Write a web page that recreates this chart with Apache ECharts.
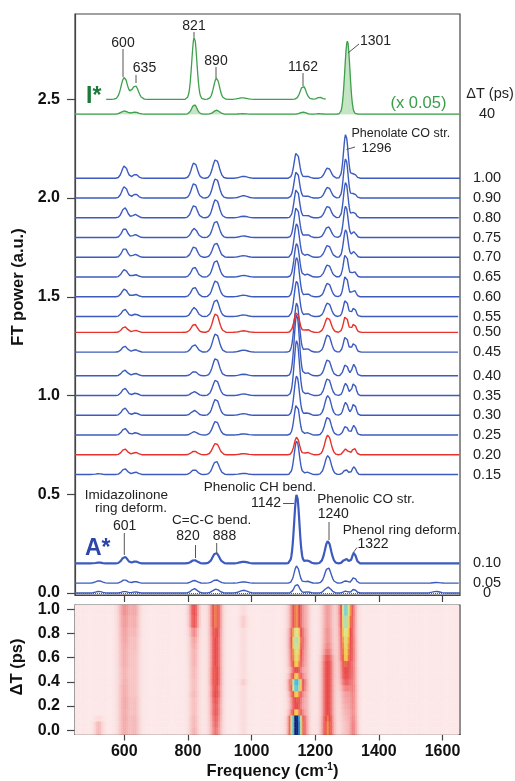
<!DOCTYPE html>
<html><head><meta charset="utf-8">
<script src="https://cdn.jsdelivr.net/npm/echarts@6/dist/echarts.min.js"></script>
<style>html,body{margin:0;padding:0;background:#fff}#c{width:515px;height:781px}</style>
</head><body><div id="c"></div>
<script>
// ---------- DATA ----------
const peakCenters = [520, 601, 635, 820, 888, 975, 1142, 1175, 1240, 1296, 1322, 1580];
const peakWidths  = [10, 8.5, 8, 9, 10, 12, 8, 8, 9.5, 7, 6, 12];
const delayLabels = ['0','0.05','0.10','0.15','0.20','0.25','0.30','0.35','0.40','0.45','0.50','0.55','0.60','0.65','0.70','0.75','0.80','0.90','1.00'];
const delays      = [0,0.05,0.10,0.15,0.20,0.25,0.30,0.35,0.40,0.45,0.50,0.55,0.60,0.65,0.70,0.75,0.80,0.90,1.00];
const traceOffsets = [0,0.05,0.15,0.60,0.70,0.80,0.90,1.00,1.10,1.22,1.32,1.40,1.50,1.60,1.70,1.80,1.90,2.00,2.10];
// peak heights per delay, columns follow peakCenters
const traceAmps = [
  [0.008,0.008,0.006,0.022,0.020,0.014,0.045,0.006,0.030,0.010,0.020,0.008],
  [0.012,0.017,0.008,0.014,0.017,0.006,0.088,0.010,0.080,0.012,0.030,0.003],
  [0.004,0.034,0.010,0.017,0.054,0.008,0.350,0.015,0.113,0.025,0.054,0],
  [0.004,0.030,0.012,0.025,0.068,0.006,0.170,0.012,0.096,0.025,0.040,0],
  [0,0.030,0.012,0.019,0.059,0.006,0.090,0.012,0.100,0.030,0.035,0],
  [0,0.034,0.012,0.017,0.071,0.006,0.160,0.012,0.093,0.046,0.050,0],
  [0,0.037,0.012,0.025,0.083,0.008,0.200,0.012,0.100,0.066,0.062,0],
  [0,0.037,0.012,0.020,0.080,0.008,0.280,0.012,0.088,0.062,0.066,0],
  [0,0.029,0.012,0.022,0.090,0.008,0.310,0.015,0.084,0.059,0.059,0],
  [0,0.030,0.012,0.039,0.095,0.010,0.250,0.017,0.090,0.081,0.047,0],
  [0,0.029,0.010,0.042,0.096,0.008,0.105,0.015,0.076,0.084,0.045,0],
  [0,0.037,0.012,0.046,0.087,0.008,0.180,0.015,0.071,0.087,0.046,0],
  [0,0.040,0.012,0.049,0.083,0.008,0.200,0.015,0.071,0.110,0.035,0],
  [0,0.039,0.012,0.051,0.086,0.008,0.170,0.015,0.064,0.120,0.030,0],
  [0,0.046,0.015,0.054,0.074,0.008,0.170,0.015,0.062,0.140,0.029,0],
  [0,0.047,0.015,0.047,0.085,0.008,0.160,0.015,0.056,0.160,0.030,0],
  [0,0.052,0.017,0.064,0.095,0.008,0.150,0.012,0.060,0.180,0.030,0],
  [0,0.059,0.020,0.076,0.101,0.012,0.140,0.010,0.056,0.200,0.025,0],
  [0,0.064,0.020,0.081,0.097,0.010,0.135,0.010,0.054,0.223,0.025,0]
];
const redDelays = ['0.20','0.50'];
const aStarDelay = '0.10';

const iStarCenters     = [600, 634, 820, 890, 972, 1162, 1214, 1301];
const iStarWidths      = [10, 10, 8, 9, 12, 9, 8, 8];
const iStarScaledAmps  = [0.111, 0.070, 0.316, 0.108, 0.008, 0.068, 0.010, 0];
const iStarAmps        = [0.016, 0.010, 0.049, 0.020, 0.002, 0.010, 0.002, 0.370];
const iStarScaledOffset = 2.5;
const iStarOffset = 2.425;
const iStarScaledRange = [542, 1240];
const iStarDelayLabel = '40';

const heatCenters = [520, 601, 635, 820, 888, 975, 1142, 1175, 1240, 1296, 1322];
const heatWidths  = [10, 15, 12, 12, 14, 9, 16, 9, 15, 14, 10];
const heatAmps = [
  [0.22,0.25,0.20,0.24,0.38,0.08,1.06,0.15,0.56,0.18,0.32],
  [0.22,0.25,0.20,0.22,0.40,0.08,1.06,0.15,0.56,0.18,0.32],
  [0.08,0.26,0.20,0.22,0.42,0.08,1.04,0.15,0.54,0.20,0.30],
  [0,0.25,0.18,0.20,0.45,0.08,0.62,0.15,0.50,0.22,0.28],
  [0,0.26,0.18,0.20,0.44,0.08,0.50,0.15,0.50,0.24,0.28],
  [0,0.26,0.18,0.20,0.46,0.08,0.52,0.15,0.50,0.26,0.28],
  [0,0.25,0.16,0.22,0.50,0.08,0.62,0.15,0.50,0.28,0.28],
  [0,0.25,0.16,0.20,0.48,0.08,0.86,0.15,0.50,0.34,0.28],
  [0,0.24,0.16,0.20,0.52,0.15,0.90,0.15,0.50,0.42,0.26],
  [0,0.23,0.16,0.22,0.52,0.08,0.62,0.15,0.50,0.48,0.26],
  [0,0.23,0.16,0.22,0.52,0.08,0.50,0.15,0.50,0.50,0.26],
  [0,0.25,0.16,0.24,0.50,0.08,0.62,0.15,0.50,0.52,0.25],
  [0,0.25,0.16,0.24,0.50,0.08,0.66,0.15,0.46,0.60,0.25],
  [0,0.25,0.17,0.24,0.50,0.08,0.68,0.15,0.38,0.62,0.25],
  [0,0.26,0.18,0.26,0.50,0.08,0.74,0.15,0.34,0.64,0.24],
  [0,0.27,0.18,0.28,0.50,0.08,0.76,0.15,0.32,0.66,0.24],
  [0,0.28,0.20,0.34,0.52,0.08,0.70,0.15,0.32,0.70,0.22],
  [0,0.30,0.22,0.46,0.55,0.15,0.56,0.15,0.30,0.76,0.22],
  [0,0.32,0.24,0.48,0.55,0.08,0.56,0.15,0.30,0.82,0.22]
];
const heatColors = ['#fce8e9','#fad9d9','#f7c0c0','#f39c9c','#ee6a6a','#e94848','#f6c848','#d8e690','#8cd6c8','#3ab6e6','#15207a'];

const freqRange = [445, 1655];
const freqTicks = [600, 800, 1000, 1200, 1400, 1600];
const powerTicks = [0, 0.5, 1, 1.5, 2, 2.5];
const delayTicks = [0, 0.2, 0.4, 0.6, 0.8, 1.0];

// ---------- BUILD ----------
const FONT = "'Liberation Sans', Arial, Helvetica, sans-serif";
const BLUE = '#3d5bbf', RED = '#e8312a', GREEN = '#3ea04c';
const sampleStep = 2;
const freqs = [];
for (let f = freqRange[0]; f <= freqRange[1]; f += sampleStep) freqs.push(f);

function spectrum(f, centers, widths, amps) {
  let s = 0;
  for (let k = 0; k < centers.length; k++) {
    const d = f - centers[k];
    s += amps[k] * Math.exp(-d * d / (2 * widths[k] * widths[k]));
  }
  return s;
}

const series = [];
// heat map (custom rects)
const heatData = [];
const bin = 6;
for (let i = 0; i < delays.length; i++) {
  const lo = i === 0 ? -0.035 : (delays[i - 1] + delays[i]) / 2;
  const hi = i === delays.length - 1 ? 1.035 : (delays[i] + delays[i + 1]) / 2;
  for (let f = 448; f <= 1652; f += bin) {
    heatData.push([f, lo, hi, Math.min(1, spectrum(f, heatCenters, heatWidths, heatAmps[i]))]);
  }
}
series.push({
  type: 'custom', xAxisIndex: 1, yAxisIndex: 1, clip: true, silent: true,
  encode: { x: 0, y: [1, 2] },
  data: heatData,
  renderItem: function (params, api) {
    const f = api.value(0), lo = api.value(1), hi = api.value(2);
    const p1 = api.coord([f - bin / 2, hi]);
    const p2 = api.coord([f + bin / 2, lo]);
    const c = api.visual('color');
    return { type: 'rect', shape: { x: p1[0], y: p1[1], width: p2[0] - p1[0], height: p2[1] - p1[1] },
             style: { fill: c, stroke: c, lineWidth: 0.5 } };
  }
});

// I* fill (under the lower I* trace, down to its baseline)
const fillStep = sampleStep;
series.push({
  type: 'custom', xAxisIndex: 0, yAxisIndex: 0, clip: true, silent: true,
  encode: { x: 0, y: [1, 2] },
  data: freqs.map(f => [f, iStarOffset, iStarOffset + spectrum(f, iStarCenters, iStarWidths, iStarAmps)]),
  renderItem: function (params, api) {
    const f = api.value(0);
    const p1 = api.coord([f - fillStep / 2, api.value(2)]);
    const p2 = api.coord([f + fillStep / 2, api.value(1)]);
    return { type: 'rect', shape: { x: p1[0], y: p1[1], width: p2[0] - p1[0], height: p2[1] - p1[1] },
             style: { fill: '#c3e5c3', stroke: '#c3e5c3', lineWidth: 0.4 } };
  },
  z: 1
});
// I* traces
series.push({
  type: 'line', xAxisIndex: 0, yAxisIndex: 0, symbol: 'none', silent: true,
  lineStyle: { color: GREEN, width: 1.3 },
  data: freqs.filter(f => f >= iStarScaledRange[0] && f <= iStarScaledRange[1])
             .map(f => [f, iStarScaledOffset + spectrum(f, iStarCenters, iStarWidths, iStarScaledAmps)])
});
series.push({
  type: 'line', xAxisIndex: 0, yAxisIndex: 0, symbol: 'none', silent: true,
  lineStyle: { color: GREEN, width: 1.3 },
  endLabel: { show: true, formatter: iStarDelayLabel, distance: 27, align: 'center',
              fontSize: 14.5, fontFamily: FONT, color: '#222' },
  data: freqs.map(f => [f, iStarOffset + spectrum(f, iStarCenters, iStarWidths, iStarAmps)])
});

// delay traces
for (let i = 0; i < delays.length; i++) {
  const lab = delayLabels[i];
  const col = redDelays.includes(lab) ? RED : BLUE;
  const s = {
    type: 'line', xAxisIndex: 0, yAxisIndex: 0, symbol: 'none', silent: true,
    lineStyle: { color: col, width: lab === aStarDelay ? 2.2 : 1.4 },
    endLabel: { show: true, formatter: lab, distance: 27, align: 'center',
                fontSize: 14.5, fontFamily: FONT, color: '#222' },
    data: freqs.map(f => [f, traceOffsets[i] + spectrum(f, peakCenters, peakWidths, traceAmps[i])]),
    z: lab === aStarDelay ? 5 : 3
  };
  if (i === 0) {
    s.markLine = { silent: true, symbol: 'none', label: { show: false },
      lineStyle: { color: BLUE, type: 'dotted', width: 1 }, data: [{ yAxis: 0 }] };
  }
  series.push(s);
}

const axisLab = { fontFamily: FONT, fontWeight: 'bold', fontSize: 16, color: '#111' };
const option = {
  animation: false,
  backgroundColor: '#fff',
  grid: [
    { left: 75, top: 14, width: 385, height: 581, show: true, borderColor: '#444', borderWidth: 1.2, backgroundColor: 'transparent' },
    { left: 75, top: 605, width: 385, height: 129.5, show: true, borderColor: '#444', borderWidth: 1.2, backgroundColor: '#fce8e9' }
  ],
  visualMap: { show: false, type: 'continuous', seriesIndex: 0, dimension: 3, min: 0, max: 1, inRange: { color: heatColors } },
  xAxis: [
    { type: 'value', gridIndex: 0, min: freqRange[0], max: freqRange[1],
      axisLine: { onZero: false, lineStyle: { color: '#444', width: 1.2 } },
      axisTick: { show: true, length: 7, customValues: freqTicks, lineStyle: { color: '#444', width: 1.2 } },
      axisLabel: { show: false }, splitLine: { show: false } },
    { type: 'value', gridIndex: 1, min: freqRange[0], max: freqRange[1],
      axisLine: { onZero: false, lineStyle: { color: '#444', width: 1.2 } },
      axisTick: { show: true, length: 6, customValues: freqTicks, lineStyle: { color: '#444', width: 1.2 } },
      axisLabel: Object.assign({ customValues: freqTicks, margin: 9, formatter: v => String(v) }, axisLab),
      splitLine: { show: false } }
  ],
  yAxis: [
    { type: 'value', gridIndex: 0, min: -0.01, max: 2.932,
      axisLine: { show: true, onZero: false, lineStyle: { color: '#444', width: 1.2 } },
      axisTick: { show: true, length: 8, customValues: powerTicks, lineStyle: { color: '#444', width: 1.2 } },
      axisLabel: Object.assign({ customValues: powerTicks, margin: 15, formatter: v => v.toFixed(1) }, axisLab),
      splitLine: { show: false } },
    { type: 'value', gridIndex: 1, min: -0.035, max: 1.035,
      axisLine: { show: true, onZero: false, lineStyle: { color: '#444', width: 1.2 } },
      axisTick: { show: true, length: 8, customValues: delayTicks, lineStyle: { color: '#444', width: 1.2 } },
      axisLabel: Object.assign({ customValues: delayTicks, margin: 15, formatter: v => v.toFixed(1) }, axisLab),
      splitLine: { show: false } }
  ],
  series: series,
  graphic: { elements: [] }
};

// annotations (text + leader lines)
const G = [];
function txt(t, x, y, o) {
  o = o || {};
  G.push({ type: 'text', x: x, y: y, rotation: o.rot || 0, z: 100,
    style: { text: t, fill: o.color || '#222', fontFamily: FONT, fontSize: o.size || 14,
             fontWeight: o.bold ? 'bold' : 'normal', align: o.align || 'center', verticalAlign: 'middle', rich: o.rich } });
}
function ln(x1, y1, x2, y2) {
  G.push({ type: 'line', z: 100, shape: { x1: x1, y1: y1, x2: x2, y2: y2 }, style: { stroke: '#555', lineWidth: 1 } });
}
// I* panel
txt('600', 123, 43); ln(123, 49, 123, 77);
txt('635', 144.5, 68); ln(136, 75, 136, 83);
txt('821', 194, 26); ln(194, 32, 194, 37);
txt('890', 216, 61); ln(216, 67, 216, 78);
txt('1162', 303, 67); ln(303, 73, 303, 86);
txt('1301', 360, 41, { align: 'left' }); ln(359, 44, 348, 53);
txt('I*', 86, 97, { align: 'left', bold: true, size: 23, color: '#1b7a3a' });
txt('(x 0.05)', 418.5, 103, { size: 16.5, color: '#3a9d4a' });
txt('\u0394T (ps)', 490, 94, { size: 14.5 });
// main
txt('Phenolate CO str.', 351.5, 133.5, { align: 'left', size: 12.5 });
txt('1296', 361.5, 148.5, { align: 'left', size: 13.5 }); ln(346.5, 149.5, 355, 147);
txt('Imidazolinone', 168, 495, { align: 'right', size: 13.5 });
txt('ring deform.', 167, 508.5, { align: 'right', size: 13.5 });
txt('601', 124.7, 526); ln(124.3, 533, 124.3, 555);
txt('C=C-C bend.', 211.7, 520, { size: 13.5 });
txt('820', 188, 536); ln(195.5, 545, 195.5, 558);
txt('888', 224.5, 536); ln(216.7, 543, 216.7, 553);
txt('Phenolic CH bend.', 260, 487.3, { size: 13.5 });
txt('1142', 266, 503.3); ln(283, 503.5, 294, 503.5);
txt('Phenolic CO str.', 366, 499.3, { size: 13.5 });
txt('1240', 333.3, 514); ln(329, 522, 329, 540);
txt('Phenol ring deform.', 401.7, 530.7, { size: 13.5 });
txt('1322', 373, 544); ln(357, 547.5, 353, 553);
txt('A*', 85, 548.3, { align: 'left', bold: true, size: 23, color: '#2b45a8' });
// axis titles
txt('FT power (a.u.)', 18, 287, { bold: true, size: 16.5, rot: Math.PI / 2, color: '#111' });
txt('\u0394T (ps)', 17.5, 667, { bold: true, size: 16.5, rot: Math.PI / 2, color: '#111' });
txt('{a|Frequency (cm}{s|-1}{a|)}', 272.5, 771.5, { bold: true, size: 16.5, color: '#111',
  rich: { a: { fontFamily: FONT, fontWeight: 'bold', fontSize: 16.5, fill: '#111' },
          s: { fontFamily: FONT, fontWeight: 'bold', fontSize: 10, fill: '#111', padding: [0, 0, 8, 0] } } });
option.graphic.elements = G;

const chart = echarts.init(document.getElementById('c'), null, { renderer: 'canvas' });
chart.setOption(option);
</script></body></html>
